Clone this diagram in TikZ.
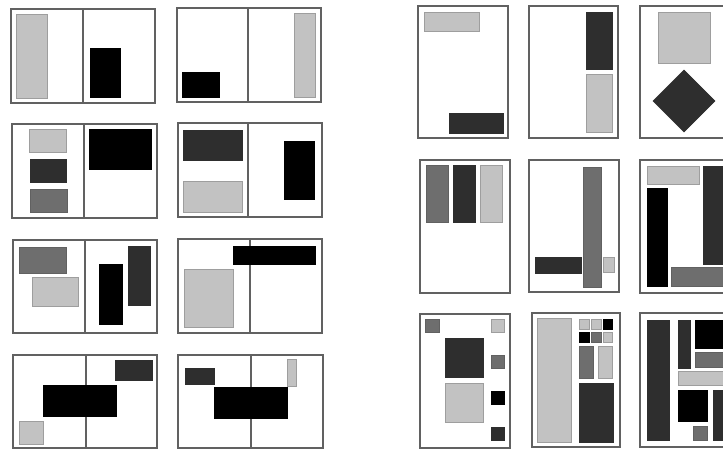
\documentclass[tikz,border=0pt]{standalone}
\begin{document}
\begin{tikzpicture}[x=1pt,y=-1pt,
  page/.style={draw=black!62,line width=1.3pt,fill=white},
  spine/.style={draw=black!62,line width=1.3pt},
  lt/.style={fill=black!24,draw=black!38,line width=0.6pt},
  md/.style={fill=black!57,draw=black!62,line width=0.6pt},
  dk/.style={fill=black!82,draw=black!82,line width=0.6pt},
  bk/.style={fill=black,draw=black,line width=0.6pt}]
\useasboundingbox (0,0) rectangle (723,450);
\clip (0,0) rectangle (723,450);
\fill[white] (0,0) rectangle (723,450);
% ---------- spreads ----------
% 1
\draw[page] (11,9) rectangle (155,103); \draw[spine] (83,9)--(83,103);
\path[lt] (16,14) rectangle (47,98);
\path[bk] (90,48) rectangle (120,97);
% 2
\draw[page] (177,8) rectangle (321,102); \draw[spine] (248,8)--(248,102);
\path[bk] (182,72) rectangle (219,97);
\path[lt] (294,13) rectangle (315,97);
% 3
\draw[page] (12,124) rectangle (157,218); \draw[spine] (84,124)--(84,218);
\path[lt] (29,129) rectangle (66,152);
\path[dk] (30,159) rectangle (66,182);
\path[md] (30,189) rectangle (67,212);
\path[bk] (89,129) rectangle (151,169);
% 4
\draw[page] (178,123) rectangle (322,217); \draw[spine] (248,123)--(248,217);
\path[dk] (183,130) rectangle (242,160);
\path[lt] (183,181) rectangle (242,212);
\path[bk] (284,141) rectangle (314,199);
% 5
\draw[page] (13,240) rectangle (157,333); \draw[spine] (85,240)--(85,333);
\path[md] (19,247) rectangle (66,273);
\path[lt] (32,277) rectangle (78,306);
\path[bk] (99,264) rectangle (122,324);
\path[dk] (128,246) rectangle (150,305);
% 6
\draw[page] (178,239) rectangle (322,333); \draw[spine] (250,239)--(250,333);
\path[lt] (184,269) rectangle (233,327);
\path[bk] (233,246) rectangle (315,264);
% 7
\draw[page] (13,355) rectangle (157,448); \draw[spine] (86,355)--(86,448);
\path[dk] (115,360) rectangle (152,380);
\path[bk] (43,385) rectangle (116,416);
\path[lt] (19,421) rectangle (43,444);
% 8
\draw[page] (178,355) rectangle (323,448); \draw[spine] (251,355)--(251,448);
\path[dk] (185,368) rectangle (214,384);
\path[bk] (214,387) rectangle (287,418);
\path[lt] (287,359) rectangle (296,386);
% ---------- single pages ----------
% A
\draw[page] (418,6) rectangle (508,138);
\path[lt] (424,12) rectangle (479,31);
\path[dk] (449,113) rectangle (503,133);
% B
\draw[page] (529,6) rectangle (618,138);
\path[dk] (586,12) rectangle (612,69);
\path[lt] (586,74) rectangle (612,132);
% C
\draw[page] (640,6) rectangle (745,138);
\path[lt] (658,12) rectangle (710,63);
\path[dk] (684,70) -- (715,101) -- (684,132) -- (653,101) -- cycle;
% D
\draw[page] (420,160) rectangle (510,293);
\path[md] (426,165) rectangle (448,222);
\path[dk] (453,165) rectangle (475,222);
\path[lt] (480,165) rectangle (502,222);
% E
\draw[page] (529,160) rectangle (619,292);
\path[md] (583,167) rectangle (601,287);
\path[dk] (535,257) rectangle (581,273);
\path[lt] (603,257) rectangle (614,272);
% F
\draw[page] (640,160) rectangle (745,293);
\path[lt] (647,166) rectangle (699,184);
\path[dk] (703,166) rectangle (745,264);
\path[bk] (647,188) rectangle (667,286);
\path[md] (671,267) rectangle (745,286);
% G
\draw[page] (420,314) rectangle (510,448);
\path[md] (425,319) rectangle (439,332);
\path[lt] (491,319) rectangle (504,332);
\path[dk] (445,338) rectangle (483,377);
\path[lt] (445,383) rectangle (483,422);
\path[md] (491,355) rectangle (504,368);
\path[bk] (491,391) rectangle (504,404);
\path[dk] (491,427) rectangle (504,440);
% H
\draw[page] (532,313) rectangle (620,447);
\path[lt] (537,318) rectangle (571,442);
\path[lt] (579,319) rectangle (589,329);
\path[lt] (591,319) rectangle (601,329);
\path[bk] (603,319) rectangle (612,329);
\path[bk] (579,332) rectangle (589,342);
\path[md] (591,332) rectangle (601,342);
\path[lt] (603,332) rectangle (612,342);
\path[md] (579,346) rectangle (593,378);
\path[lt] (598,346) rectangle (612,378);
\path[dk] (579,383) rectangle (613,442);
% I
\draw[page] (640,313) rectangle (745,447);
\path[dk] (647,320) rectangle (669,440);
\path[dk] (678,320) rectangle (690,368);
\path[bk] (695,320) rectangle (745,348);
\path[md] (695,352) rectangle (745,367);
\path[lt] (678,371) rectangle (745,385);
\path[bk] (678,390) rectangle (707,421);
\path[md] (693,426) rectangle (707,440);
\path[dk] (713,390) rectangle (745,440);
\end{tikzpicture}
\end{document}
